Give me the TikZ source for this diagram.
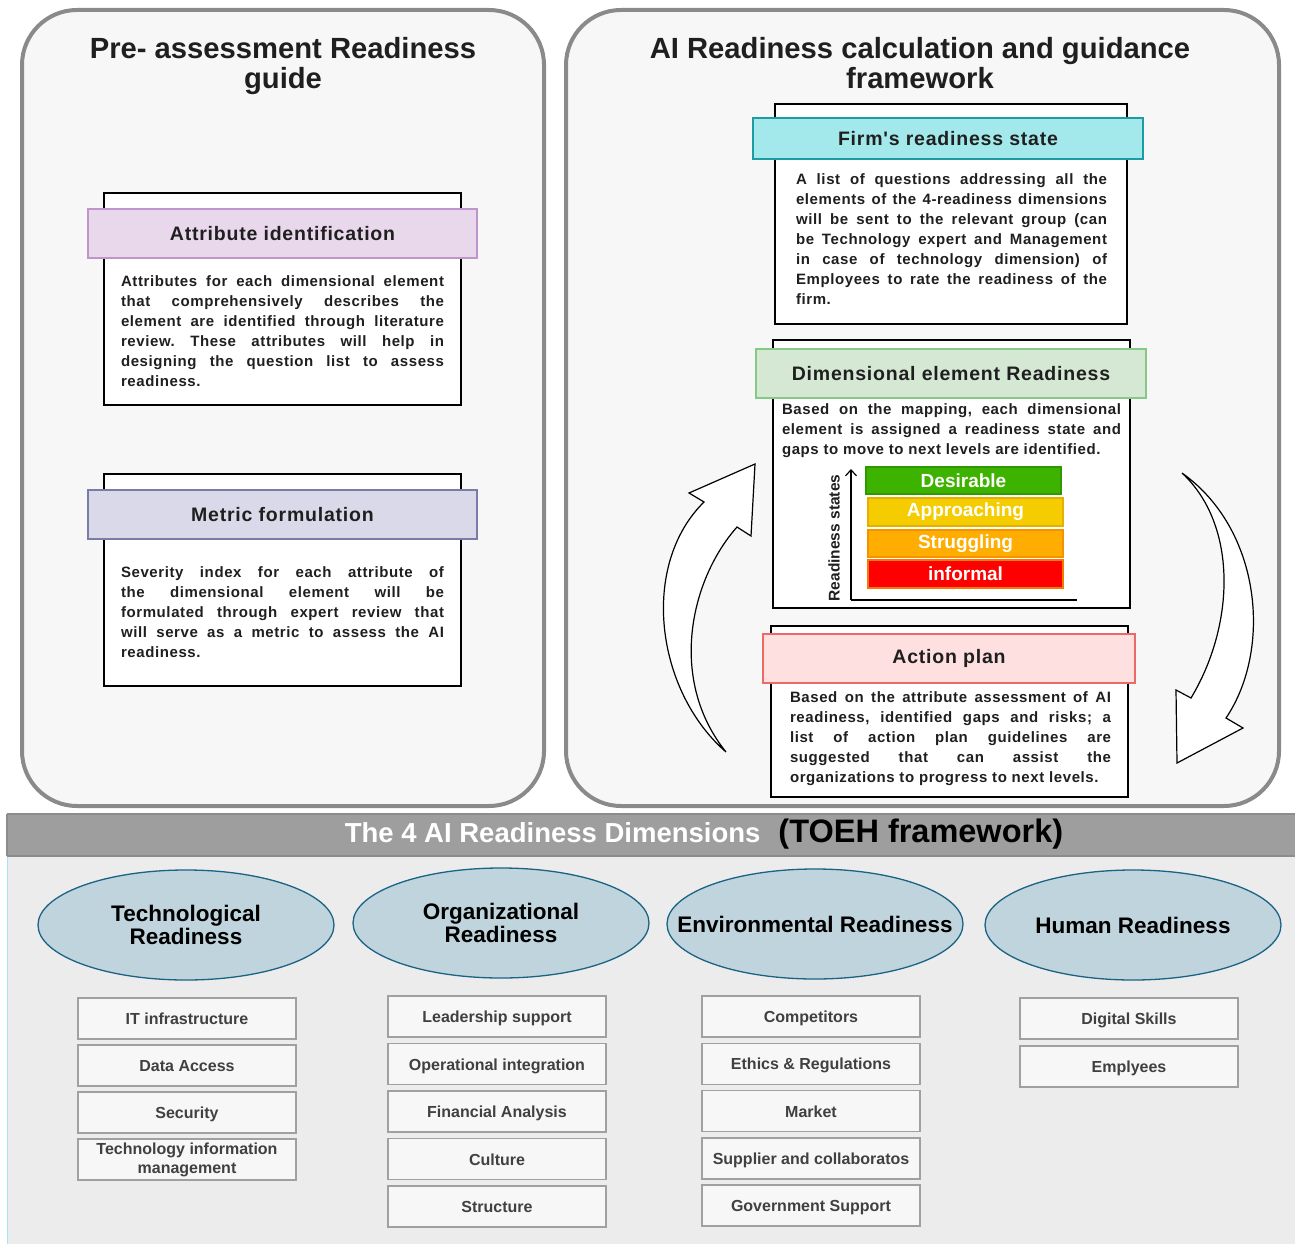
\documentclass[tikz,border=0pt]{standalone}
\usepackage{fontspec}
\setmainfont{Liberation Sans}
\newfontfamily\trackfont[LetterSpace=4]{Liberation Sans}
\usetikzlibrary{shapes.geometric,arrows.meta}
\frenchspacing

\definecolor{panelfill}{HTML}{F7F7F7}
\definecolor{panelline}{HTML}{8A8A8A}
\definecolor{attrfill}{HTML}{E9D8EC}
\definecolor{attrline}{HTML}{BE96CC}
\definecolor{metrfill}{HTML}{D9D9EA}
\definecolor{metrline}{HTML}{7B7BA8}
\definecolor{firmfill}{HTML}{A3E9EC}
\definecolor{firmline}{HTML}{1E9BA3}
\definecolor{dimhfill}{HTML}{D5E8D4}
\definecolor{dimhline}{HTML}{86C886}
\definecolor{actfill}{HTML}{FFE0E0}
\definecolor{actline}{HTML}{EA6B66}
\definecolor{desfill}{HTML}{3DB300}
\definecolor{desline}{HTML}{2E9900}
\definecolor{appfill}{HTML}{F5CC00}
\definecolor{appline}{HTML}{E6B000}
\definecolor{strfill}{HTML}{FFAD00}
\definecolor{strline}{HTML}{F59200}
\definecolor{inffill}{HTML}{FF0000}
\definecolor{infline}{HTML}{F27A00}
\definecolor{bandgray}{HTML}{9D9E9D}
\definecolor{lowfill}{HTML}{ECECEC}
\definecolor{dimfill}{HTML}{BFD4DC}
\definecolor{dimline}{HTML}{1B6385}
\definecolor{elemfill}{HTML}{F7F7F7}
\definecolor{elemline}{HTML}{A0A0A0}
\definecolor{elemtext}{HTML}{404040}
\definecolor{bodytext}{HTML}{1F1F1F}

\begin{document}
\begin{tikzpicture}[x=1pt,y=-1pt,
  panel/.style={draw=panelline,line width=4pt,fill=panelfill,rounded corners=55pt},
  title/.style={align=center,text=bodytext,font=\bfseries\fontsize{29.2}{30}\selectfont},
  card/.style={draw=black,fill=white,line width=1.5pt,inner sep=0pt},
  head/.style={draw,line width=1.3pt,inner sep=0pt,text=bodytext,
    font=\trackfont\bfseries\fontsize{19.5}{22}\selectfont},
  body/.style={text width=#1,align=justify,anchor=north,inner sep=0pt,text=bodytext,
    font=\trackfont\bfseries\fontsize{15}{20}\selectfont\frenchspacing},
  bar/.style={minimum width=195pt,inner sep=0pt,line width=1.2pt,text=white,
    font=\bfseries\fontsize{19}{20}\selectfont},
  blockarrow/.style={draw=black,fill=white,line width=1.2pt,line join=miter},
  dim/.style={ellipse,draw=dimline,fill=dimfill,line width=1.3pt,minimum width=296pt,
    minimum height=110pt,inner xsep=-40pt,align=center,text=black,
    font=\bfseries\fontsize{22.5}{23.5}\selectfont},
  elem/.style={draw=elemline,fill=elemfill,line width=1.5pt,minimum width=218pt,
    minimum height=41pt,inner sep=0pt,align=center,text=elemtext,
    text height=13.5pt,text depth=1.5pt,font=\bfseries\fontsize{16}{19}\selectfont}]
\useasboundingbox (0,0) rectangle (1295,1244);
\fill[white] (0,0) rectangle (1295,1244);

% two upper panels
\draw[panel] (22,10) rectangle (544,806);
\draw[panel] (566,10) rectangle (1279,806);
\node[title] (pretitle) at (283,66) {Pre- assessment Readiness\\guide};
\node[title] (aititle) at (920,63) {AI Readiness calculation and guidance\\framework};

% pre-assessment guide
\node[card,minimum width=357pt,minimum height=212pt] (attrbox) at (282.5,299) {};
\node[head,fill=attrfill,draw=attrline,minimum width=389pt,minimum height=49pt] (attrhead) at (282.5,233.5) {Attribute identification};
\node[body=323pt] (attrtext) at (282.5,275) {Attributes for each dimensional element\linebreak
that comprehensively describes the\linebreak
element are identified through literature\linebreak
review. These attributes will help in\linebreak
designing the question list to assess\linebreak
readiness.};

\node[card,minimum width=357pt,minimum height=212pt] (metrbox) at (282.5,580) {};
\node[head,fill=metrfill,draw=metrline,minimum width=389pt,minimum height=49pt] (metrhead) at (282.5,514.5) {Metric formulation};
\node[body=323pt] (metrtext) at (282.5,566) {Severity index for each attribute of\linebreak
the dimensional element will be\linebreak
formulated through expert review that\linebreak
will serve as a metric to assess the AI\linebreak
readiness.};

% calculation and guidance framework
\node[card,minimum width=352pt,minimum height=220pt] (firmbox) at (951,214) {};
\node[head,fill=firmfill,draw=firmline,minimum width=390pt,minimum height=41pt] (firmhead) at (948,138.5) {Firm's readiness state};
\node[body=311pt] (firmtext) at (951.5,173) {A list of questions addressing all the\linebreak
elements of the 4-readiness dimensions\linebreak
will be sent to the relevant group (can\linebreak
be Technology expert and Management\linebreak
in case of technology dimension) of\linebreak
Employees to rate the readiness of the\linebreak
firm.};

\node[card,minimum width=357pt,minimum height=268pt] (dimbox) at (951.5,474) {};
\node[head,fill=dimhfill,draw=dimhline,minimum width=390pt,minimum height=49pt] (dimhead) at (951,373.5) {Dimensional element Readiness};
\node[body=339pt] (dimtext) at (951.5,403) {Based on the mapping, each dimensional\linebreak
element is assigned a readiness state and\linebreak
gaps to move to next levels are identified.};

\node[bar,fill=desfill,draw=desline,minimum height=27pt] (desirable) at (963.5,480.5) {Desirable};
\node[bar,fill=appfill,draw=appline,minimum height=28pt] (approaching) at (965.5,512) {Approaching};
\node[bar,fill=strfill,draw=strline,minimum height=27pt] (struggling) at (965.5,543.5) {Struggling};
\node[bar,fill=inffill,draw=infline,minimum height=28pt] (informal) at (965.5,574) {informal};
\coordinate (axo) at (851,600);
\coordinate (axtop) at (851,469);
\coordinate (axright) at (1077,600);
\draw[line width=1.2pt,-{Straight Barb[length=6pt,width=11pt]}] (axo) -- (axtop);
\draw[line width=1.2pt] (axo) -- (axright);
\node[rotate=90,text=bodytext,font=\bfseries\fontsize{15.5}{16}\selectfont] (statelbl) at (834,538) {Readiness states};

\node[card,minimum width=357pt,minimum height=171pt] (actbox) at (949.5,711.5) {};
\node[head,fill=actfill,draw=actline,minimum width=372pt,minimum height=49pt] (acthead) at (949,658.5) {Action plan};
\node[body=321pt] (acttext) at (950.5,691) {Based on the attribute assessment of AI\linebreak
readiness, identified gaps and risks; a\linebreak
list of action plan guidelines are\linebreak
suggested that can assist the\linebreak
organizations to progress to next levels.};

% cycle arrows
\draw[blockarrow] (726,752) .. controls (655,690) and (640,565) .. (704,502)
  -- (689,493) -- (755,464) -- (751,536) -- (737,527)
  .. controls (690,580) and (668,680) .. (726,752) -- cycle;
\draw[blockarrow] (1182,473) .. controls (1262,530) and (1272,650) .. (1226,718)
  -- (1243,728) -- (1177,763) -- (1176,690) -- (1191,698)
  .. controls (1235,625) and (1238,525) .. (1182,473) -- cycle;

% TOEH dimensions
\fill[lowfill] (7,856) rectangle (1295,1244);
\draw[line width=1pt,draw=cyan!35] (7.5,856) -- (7.5,1244);
\fill[bandgray] (7,814) rectangle (1295,856);
\draw[line width=1.2pt,draw=gray!90] (7,814) -- (1295,814) (7,856) -- (1295,856) (7,814) -- (7,856);
\node[inner sep=0pt] (toeh) at (704,834) {\fontsize{27.5}{28}\selectfont\bfseries\color{white}The 4 AI Readiness Dimensions\hspace{18pt}\fontsize{32.5}{33}\selectfont\color{black}(TOEH framework)};

\node[dim] (tech) at (186,925) {Technological\\Readiness};
\node[dim] (org) at (501,923) {Organizational\\Readiness};
\node[dim] (env) at (815,924) {Environmental Readiness};
\node[dim] (human) at (1133,925) {Human Readiness};

\foreach \txt [count=\i] in {IT infrastructure,Data Access,Security}
  \node[elem] (tech\i) at (187,{1018.5+(\i-1)*47}) {\txt};
\node[elem,text height={},text depth={}] (tech4) at (187,1159.5) {Technology information\\management};
\foreach \txt [count=\i] in {Leadership support,Operational integration,Financial Analysis,Culture,Structure}
  \node[elem] (org\i) at (497,{1016.5+(\i-1)*47.5}) {\txt};
\foreach \txt [count=\i] in {Competitors,Ethics \& Regulations,Market,Supplier and collaboratos,Government Support}
  \node[elem] (env\i) at (811,{1016.5+(\i-1)*47.25}) {\txt};
\foreach \txt [count=\i] in {Digital Skills,Emplyees}
  \node[elem] (human\i) at (1129,{1018.5+(\i-1)*48}) {\txt};
\end{tikzpicture}
\end{document}
